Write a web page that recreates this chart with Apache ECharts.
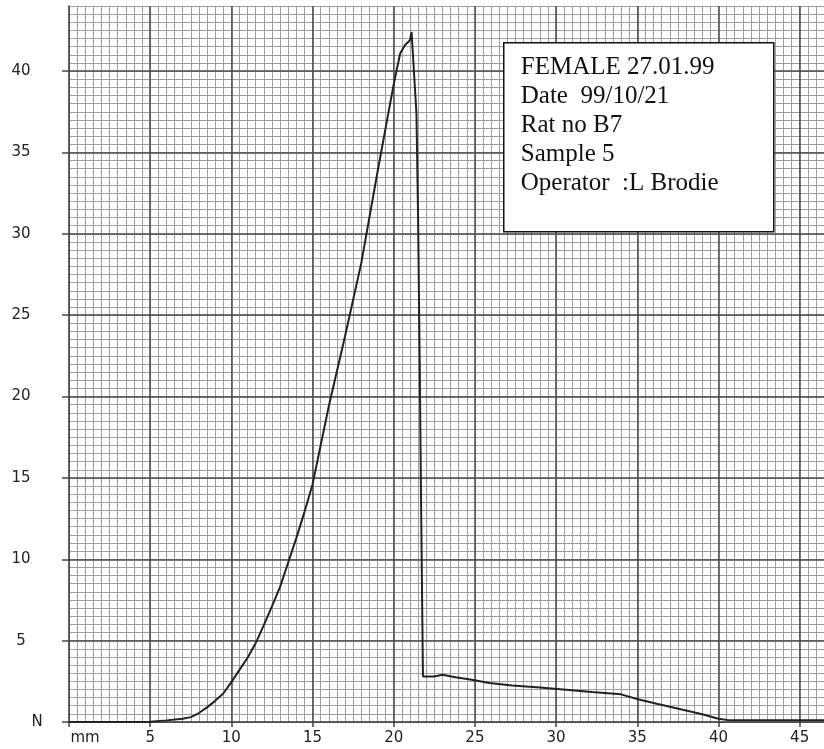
<!DOCTYPE html>
<html>
<head>
<meta charset="utf-8">
<script src="https://cdn.jsdelivr.net/npm/echarts@6/dist/echarts.min.js"></script>
<style>
  html, body { margin: 0; padding: 0; background: #fff; }
  #chart { width: 824px; height: 749px; }
</style>
</head>
<body>
<div id="chart"></div>
<script>
// extension (mm) and force (N)
const mm = [0, 4, 5, 6, 7, 7.5, 8, 8.5, 9, 9.5, 10, 10.5, 11, 11.5, 12, 12.5, 13, 13.5, 14, 14.5,
  15, 16, 17, 18, 19, 20, 20.4, 20.7, 21.0, 21.1, 21.2, 21.4, 21.5, 21.6, 21.7, 21.8,
  22.5, 23, 23.8, 24.8, 25.9, 27.3, 29, 30.6, 32.2, 34, 35.1, 36.2, 37.8, 39, 40, 40.7, 41.5, 46.5];
const force = [0, 0, 0.02, 0.1, 0.2, 0.3, 0.55, 0.9, 1.3, 1.75, 2.45, 3.2, 3.95, 4.85, 5.95, 7.1, 8.3, 9.8, 11.3, 12.9,
  14.6, 19.4, 23.7, 28.2, 33.8, 39.2, 41.1, 41.6, 41.9, 42.4, 40.7, 37.4, 31, 22, 12, 2.8,
  2.8, 2.9, 2.75, 2.6, 2.4, 2.25, 2.12, 1.98, 1.84, 1.7, 1.38, 1.12, 0.75, 0.48, 0.2, 0.1, 0.1, 0.1];

const infoLines = [
  'FEMALE 27.01.99',
  'Date  99/10/21',
  'Rat no B7',
  'Sample 5',
  'Operator  :L Brodie'
];

const xMax = 46.5;
const yMax = 44;

const labelFont = { fontFamily: 'DejaVu Sans', fontSize: 15, color: '#222' };

const chart = echarts.init(document.getElementById('chart'));

const option = {
  backgroundColor: '#fff',
  animation: false,
  grid: { left: 69, right: 0, top: 6, bottom: 27 },
  xAxis: [
    { // fine grid, 0.5 mm
      type: 'value', min: 0, max: xMax, interval: 0.5, position: 'bottom', z: 1,
      axisLabel: { show: false }, axisLine: { show: false }, axisTick: { show: false },
      splitLine: { show: true, lineStyle: { color: '#9e9e9e', width: 1 } }
    },
    { // major grid, 5 mm
      type: 'value', min: 0, max: xMax, interval: 5, position: 'bottom', z: 2,
      axisLine: { show: true, onZero: false, lineStyle: { color: '#333', width: 1.5 } },
      axisTick: { show: true, inside: false, length: 5, lineStyle: { color: '#444', width: 1.5 } },
      splitLine: { show: true, showMinLine: false, showMaxLine: false, lineStyle: { color: '#4a4a4a', width: 1.5 } },
      axisLabel: Object.assign({
        margin: 9, showMaxLabel: false,
        formatter: v => v === 0 ? '{u|mm}' : String(v),
        rich: { u: Object.assign({ padding: [0, 0, 0, 32] }, labelFont) }
      }, labelFont)
    }
  ],
  yAxis: [
    {
      type: 'value', min: 0, max: yMax, interval: 0.5, position: 'left', z: 1,
      axisLabel: { show: false }, axisLine: { show: false }, axisTick: { show: false },
      splitLine: { show: true, lineStyle: { color: '#9e9e9e', width: 1 } }
    },
    {
      type: 'value', min: 0, max: yMax, interval: 5, position: 'left', z: 2,
      axisLine: { show: true, onZero: false, lineStyle: { color: '#333', width: 1.5 } },
      axisTick: { show: true, inside: false, length: 7, lineStyle: { color: '#444', width: 1.5 } },
      splitLine: { show: true, showMinLine: false, showMaxLine: false, lineStyle: { color: '#4a4a4a', width: 1.5 } },
      axisLabel: Object.assign({
        margin: 48, align: 'center', showMaxLabel: false,
        formatter: v => v === 0 ? '{u|N}' : String(v),
        rich: { u: Object.assign({ padding: [0, 0, 0, 32] }, labelFont) }
      }, labelFont)
    }
  ],
  series: [{
    type: 'line',
    xAxisIndex: 1,
    yAxisIndex: 1,
    z: 5,
    data: mm.map((m, i) => [m, force[i]]),
    showSymbol: false,
    smooth: false,
    lineStyle: { color: '#222', width: 2 }
  }],
  graphic: [{
    type: 'group',
    left: 503,
    top: 42,
    z: 100,
    children: [
      {
        type: 'rect',
        z: 100,
        shape: { x: 0, y: 0, width: 270, height: 189 },
        style: { fill: '#fff', stroke: '#111', lineWidth: 1.5 }
      },
      {
        type: 'text',
        z: 101,
        x: 17,
        y: 10,
        style: {
          text: infoLines.join('\n'),
          font: '25px "Liberation Serif"',
          lineHeight: 29,
          fill: '#111',
          verticalAlign: 'top'
        }
      }
    ]
  }]
};

chart.setOption(option);
</script>
</body>
</html>
